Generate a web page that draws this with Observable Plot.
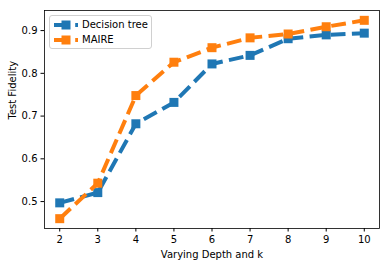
<!DOCTYPE html>
<html>
<head>
<meta charset="utf-8">
<script src="https://cdn.jsdelivr.net/npm/d3@7"></script>
<script src="https://cdn.jsdelivr.net/npm/@observablehq/plot@0.6"></script>
<style>
  body { margin: 0; background: #fff; font-family: "DejaVu Sans", sans-serif; }
  #wrap { position: relative; width: 387px; height: 263px; }
  #legend { position: absolute; left: 49px; top: 15px; width: 101px; height: 32px;
    border: 1px solid #d0d0d0; border-radius: 3px; background: rgba(255,255,255,0.8);
    font-size: 10px; color: #000; }
  #legend svg { position: absolute; left: 0; top: 0; }
  .lg { position: absolute; left: 32px; line-height: 12px; white-space: nowrap; }
</style>
</head>
<body>
<div id="wrap"></div>
<script>
const depth = [2, 3, 4, 5, 6, 7, 8, 9, 10];
const decisionTree = [0.497, 0.521, 0.682, 0.732, 0.822, 0.842, 0.881, 0.890, 0.894];
const maire = [0.460, 0.543, 0.748, 0.826, 0.860, 0.883, 0.892, 0.909, 0.924];
const seriesNames = ["Decision tree", "MAIRE"];
const colors = ["#1f77b4", "#ff7f0e"];
const xTicks = [2, 3, 4, 5, 6, 7, 8, 9, 10];
const yTicks = [0.5, 0.6, 0.7, 0.8, 0.9];

const dt = depth.map((d, i) => ({x: d, y: decisionTree[i]}));
const ma = depth.map((d, i) => ({x: d, y: maire[i]}));

const dash = "14.8,6.4";
const chart = Plot.plot({
  width: 387, height: 263,
  marginLeft: 44, marginRight: 8, marginTop: 10, marginBottom: 35,
  style: {fontFamily: "DejaVu Sans, sans-serif", fontSize: "10px", color: "#000", background: "#fff"},
  x: {domain: [1.6, 10.4]},
  y: {domain: [0.437, 0.947]},
  marks: [
    Plot.axisX({ticks: xTicks, tickSize: 3.5, tickPadding: 3.5, tickFormat: d => String(d),
      label: null, stroke: "#000", fill: "#000"}),
    Plot.axisY({ticks: yTicks, tickSize: 3.5, tickPadding: 3.5, tickFormat: d => d.toFixed(1),
      label: null, stroke: "#000", fill: "#000"}),
    Plot.text(["Varying Depth and k"], {frameAnchor: "bottom", dy: 29, fontSize: 10, fill: "#000"}),
    Plot.text(["Test Fidelity"], {frameAnchor: "left", dx: -32, rotate: -90, fontSize: 10, fill: "#000"}),
    Plot.line(dt, {x: "x", y: "y", stroke: colors[0], strokeWidth: 4, strokeDasharray: dash, strokeLinecap: "butt", strokeLinejoin: "round"}),
    Plot.dot(dt, {x: "x", y: "y", symbol: "square", r: 5.08, fill: colors[0], stroke: "none"}),
    Plot.line(ma, {x: "x", y: "y", stroke: colors[1], strokeWidth: 4, strokeDasharray: dash, strokeLinecap: "butt", strokeLinejoin: "round"}),
    Plot.dot(ma, {x: "x", y: "y", symbol: "square", r: 5.08, fill: colors[1], stroke: "none"}),
    Plot.frame({stroke: "#000", strokeWidth: 0.8})
  ]
});
const wrap = document.getElementById("wrap");
wrap.appendChild(chart);

// legend
const lg = document.createElement("div");
lg.id = "legend";
const ns = "http://www.w3.org/2000/svg";
const svg = document.createElementNS(ns, "svg");
svg.setAttribute("width", 101); svg.setAttribute("height", 32);
seriesNames.forEach((name, i) => {
  const cy = 9 + i * 15;
  const ln = document.createElementNS(ns, "line");
  ln.setAttribute("x1", 4); ln.setAttribute("x2", 28);
  ln.setAttribute("y1", cy); ln.setAttribute("y2", cy);
  ln.setAttribute("stroke", colors[i]); ln.setAttribute("stroke-width", 4);
  ln.setAttribute("stroke-dasharray", dash);
  svg.appendChild(ln);
  const r = document.createElementNS(ns, "rect");
  r.setAttribute("x", 16 - 4.5); r.setAttribute("y", cy - 4.5);
  r.setAttribute("width", 9); r.setAttribute("height", 9);
  r.setAttribute("fill", colors[i]);
  svg.appendChild(r);
  const t = document.createElement("div");
  t.className = "lg";
  t.style.top = (cy - 6) + "px";
  t.textContent = name;
  lg.appendChild(t);
});
lg.insertBefore(svg, lg.firstChild);
wrap.appendChild(lg);
</script>
</body>
</html>
